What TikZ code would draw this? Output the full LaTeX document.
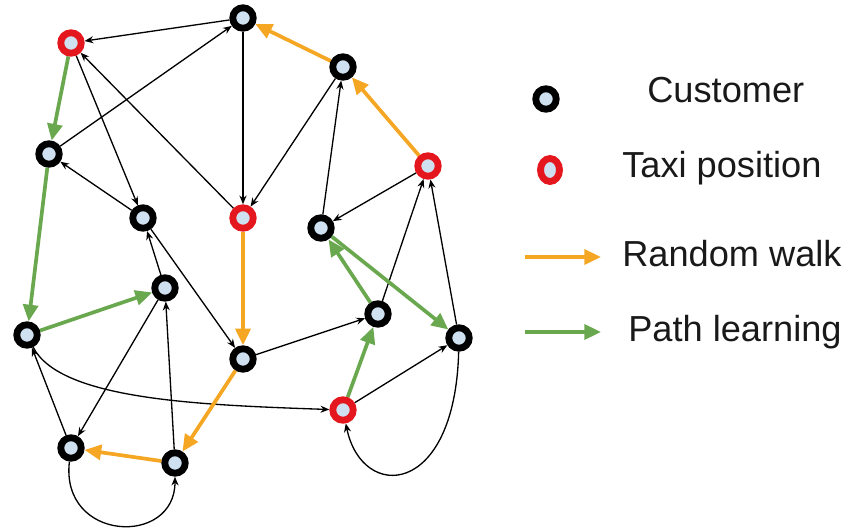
\documentclass[tikz,border=0pt]{standalone}
\usepackage{fontspec}
\setmainfont{Liberation Sans}
\usetikzlibrary{arrows.meta,shapes.geometric}
\definecolor{nodefill}{RGB}{207,224,240}
\definecolor{taxired}{RGB}{228,22,30}
\definecolor{walkorange}{RGB}{245,166,35}
\definecolor{learngreen}{RGB}{106,168,79}
\definecolor{labelgray}{RGB}{25,25,25}
\pgfdeclarelayer{edges}
\pgfsetlayers{edges,main}
\tikzset{
  customer/.style={circle, draw=black, fill=nodefill, line width=3.9pt,
    minimum size=0.41cm, inner sep=0pt},
  taxi/.style={customer, draw=taxired},
  link/.style={line width=0.75pt, -{Stealth[length=5pt,width=4pt]}},
  walk/.style={draw=walkorange, line width=2.1pt,
    -{Triangle[length=9.5pt,width=8.5pt]}},
  learn/.style={draw=learngreen, line width=2.1pt,
    -{Triangle[length=9.5pt,width=8.5pt]}},
  legendtext/.style={anchor=base west, text=labelgray,
    font=\fontsize{20.6pt}{24pt}\selectfont, inner sep=0pt},
}
\begin{document}
\begin{tikzpicture}[x=0.02cm, y=-0.02cm]
\useasboundingbox (0,0) rectangle (850,530);

% graph nodes
\node[customer] (A) at (243,18) {};
\node[taxi]     (B) at (71,43) {};
\node[customer] (C) at (343,67) {};
\node[customer] (D) at (49,154) {};
\node[taxi]     (E) at (428,166) {};
\node[customer] (F) at (143,218) {};
\node[taxi]     (G) at (243,218) {};
\node[customer] (H) at (321,228) {};
\node[customer] (I) at (165,288) {};
\node[customer] (J) at (27,335) {};
\node[customer] (K) at (378,314) {};
\node[customer] (L) at (459,338) {};
\node[customer] (M) at (243,359) {};
\node[taxi]     (N) at (343,410) {};
\node[customer] (O) at (71,448) {};
\node[customer] (P) at (175,463) {};

% legend
\node[customer] (lc) at (546,99) {};
\node[taxi, ellipse, minimum width=0.38cm, minimum height=0.46cm] (lt) at (550,170) {};
\coordinate (ow1) at (525,257);
\coordinate (ow2) at (601,257);
\coordinate (gw1) at (525,332);
\coordinate (gw2) at (601,332);
\node[legendtext] (tc) at (647,103) {Customer};
\node[legendtext] (tt) at (622,178) {Taxi position};
\node[legendtext] (tw) at (622,267) {Random walk};
\node[legendtext] (tp) at (628,342) {Path learning};

\begin{pgfonlayer}{edges}
  % plain links between customers
  \draw[link] (A) -- (B);
  \draw[link] (D) -- (A);
  \draw[link] (B) -- (F);
  \draw[link] (G) -- (B);
  \draw[link] (F) -- (D);
  \draw[link] (A) -- (G);
  \draw[link] (C) -- (G);
  \draw[link] (F) -- (M);
  \draw[link] (I) -- (F);
  \draw[link] (I) -- (O);
  \draw[link] (P) -- (I);
  \draw[link] (O) -- (J);
  \draw[link] (J) .. controls (60,400) and (200,405) .. (N);
  \draw[link] (M) -- (K);
  \draw[link] (N) -- (L);
  \draw[link] (L) .. controls (455,498) and (362,502) .. (N);
  \draw[link] (K) -- (E);
  \draw[link] (L) -- (E);
  \draw[link] (E) -- (H);
  \draw[link] (H) -- (C);
  \draw[link] (O) .. controls (60,542) and (175,547) .. (P);
  % random walk
  \draw[walk] (G) -- (M);
  \draw[walk] (M) -- (P);
  \draw[walk] (P) -- (O);
  \draw[walk] (E) -- (C);
  \draw[walk] (C) -- (A);
  % path learning
  \draw[learn] (B) -- (D);
  \draw[learn] (D) -- (J);
  \draw[learn] (J) -- (I);
  \draw[learn] (N) -- (K);
  \draw[learn] (K) -- (H);
  \draw[learn] (H) -- (L);
  % legend arrows
  \draw[walk] (ow1) -- (ow2);
  \draw[learn] (gw1) -- (gw2);
\end{pgfonlayer}
\end{tikzpicture}
\end{document}
